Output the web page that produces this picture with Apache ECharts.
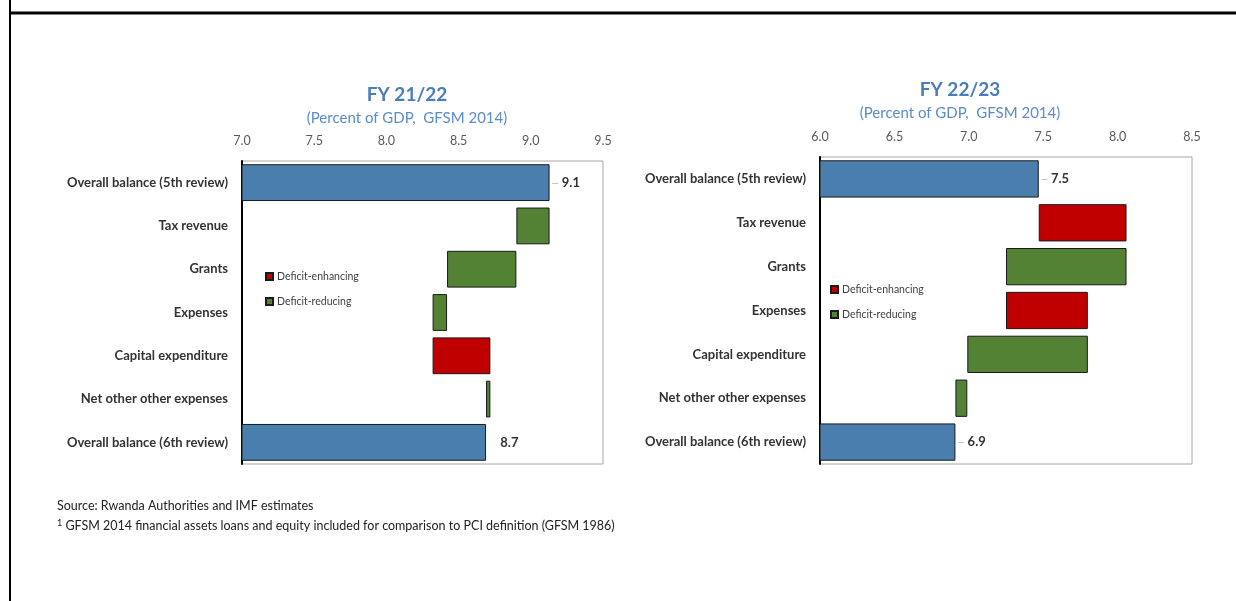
<!DOCTYPE html>
<html>
<head>
<meta charset="utf-8">
<title>Rwanda overall balance</title>
<script src="https://cdn.jsdelivr.net/npm/echarts@6/dist/echarts.min.js"></script>
<style>
  html, body { margin: 0; padding: 0; background: #fff; }
  #chart { width: 1236px; height: 601px; }
</style>
</head>
<body>
<div id="chart"></div>
<script>
const categories = ['Overall balance (5th review)', 'Tax revenue', 'Grants', 'Expenses',
  'Capital expenditure', 'Net other other expenses', 'Overall balance (6th review)']

// FY 21/22: balance at 5th and 6th review, then change by component (+ = deficit-enhancing)
const fy2122Balance = [9.13, 8.69]
const fy2122Changes = [-0.23, -0.48, -0.10, 0.40, -0.03]
const fy2122Ticks = [7.0, 9.5]

// FY 22/23
const fy2223Balance = [7.47, 6.91]
const fy2223Changes = [0.59, -0.81, 0.55, -0.81, -0.08]
const fy2223Ticks = [6.0, 8.5]

const FONT = 'Lato, "Noto Sans", sans-serif'
const BLUE = '#4a7fad'
const RED = '#c00000'
const GREEN = '#548235'
const EDGE = '#1a1a1a'

// running totals -> transparent base + coloured pieces
function waterfall(balance, changes) {
  const base = [0]
  const up = ['-']
  const down = ['-']
  const total = [balance[0]]
  let level = balance[0]
  changes.forEach(c => {
    const next = level + c
    base.push(Math.min(level, next))
    up.push(c > 0 ? c : '-')
    down.push(c < 0 ? -c : '-')
    total.push('-')
    level = next
  })
  base.push(0)
  up.push('-')
  down.push('-')
  total.push(balance[1])
  return { base, up, down, total }
}

function buildSeries(balance, changes, idx, leaderIdx) {
  const w = waterfall(balance, changes)
  const stack = 'wf' + idx
  const common = {
    type: 'bar',
    stack: stack,
    xAxisIndex: idx,
    yAxisIndex: idx,
    barCategoryGap: '15%',
    animation: false
  }
  return [
    Object.assign({}, common, {
      name: 'base' + idx,
      data: w.base,
      itemStyle: { color: 'transparent', borderWidth: 0 },
      emphasis: { disabled: true }
    }),
    Object.assign({}, common, {
      name: 'Balance',
      data: w.total,
      itemStyle: { color: BLUE, borderColor: EDGE, borderWidth: 1 },
      label: {
        show: true,
        position: 'right',
        distance: 2,
        formatter: p => (leaderIdx.indexOf(p.dataIndex) >= 0 ? '{l|—}' : '   ') +
          ' {v|' + p.value.toFixed(1) + '}',
        rich: {
          l: { color: '#a6a6a6', fontSize: 9, fontFamily: FONT },
          v: { color: '#333', fontSize: 13, fontWeight: 'bold', fontFamily: FONT }
        }
      }
    }),
    Object.assign({}, common, {
      name: 'Deficit-enhancing',
      data: w.up,
      itemStyle: { color: RED, borderColor: EDGE, borderWidth: 1 }
    }),
    Object.assign({}, common, {
      name: 'Deficit-reducing',
      data: w.down,
      itemStyle: { color: GREEN, borderColor: EDGE, borderWidth: 1 }
    })
  ]
}

function xAxis(ticks, idx) {
  return {
    type: 'value',
    gridIndex: idx,
    position: 'top',
    min: ticks[0],
    max: ticks[1],
    interval: 0.5,
    axisLine: { show: false },
    axisTick: { show: false },
    splitLine: { show: false },
    axisLabel: {
      margin: 14,
      color: '#595959',
      fontSize: 12.5,
      fontFamily: FONT,
      formatter: v => v.toFixed(1)
    }
  }
}

function yAxis(idx) {
  return {
    type: 'category',
    gridIndex: idx,
    data: categories,
    inverse: true,
    axisLine: { show: true, lineStyle: { color: '#000', width: 2 } },
    axisTick: { show: false },
    axisLabel: {
      margin: 14,
      color: '#333',
      fontSize: 13,
      fontWeight: 'bold',
      fontFamily: FONT
    }
  }
}

function legendAt(left, top) {
  return {
    orient: 'vertical',
    left: left,
    top: top,
    padding: 0,
    itemGap: 14,
    itemWidth: 7,
    itemHeight: 7,
    icon: 'rect',
    data: ['Deficit-enhancing', 'Deficit-reducing'],
    textStyle: { color: '#404040', fontSize: 10.5, fontFamily: FONT, padding: [0, 0, 0, -1] }
  }
}

const chart = echarts.init(document.getElementById('chart'), null, { renderer: 'canvas' })

chart.setOption({
  backgroundColor: '#fff',
  textStyle: { fontFamily: FONT },
  title: [
    {
      text: 'FY 21/22',
      subtext: '(Percent of GDP,  GFSM 2014)',
      left: 402,
      top: 80,
      textAlign: 'center',
      itemGap: 7,
      textStyle: { color: '#4a7ebb', fontSize: 19, fontWeight: 'bold', fontFamily: FONT },
      subtextStyle: { color: '#5b8cc8', fontSize: 15, fontFamily: FONT }
    },
    {
      text: 'FY 22/23',
      subtext: '(Percent of GDP,  GFSM 2014)',
      left: 955,
      top: 75,
      textAlign: 'center',
      itemGap: 7,
      textStyle: { color: '#4a7ebb', fontSize: 19, fontWeight: 'bold', fontFamily: FONT },
      subtextStyle: { color: '#5b8cc8', fontSize: 15, fontFamily: FONT }
    }
  ],
  legend: [legendAt(265, 271), legendAt(830, 284)],
  grid: [
    { left: 242, right: 633, top: 161, bottom: 137, show: true, borderColor: '#a6a6a6', borderWidth: 1 },
    { left: 820, right: 44, top: 157, bottom: 137, show: true, borderColor: '#a6a6a6', borderWidth: 1 }
  ],
  xAxis: [xAxis(fy2122Ticks, 0), xAxis(fy2223Ticks, 1)],
  yAxis: [yAxis(0), yAxis(1)],
  series: buildSeries(fy2122Balance, fy2122Changes, 0, [0])
    .concat(buildSeries(fy2223Balance, fy2223Changes, 1, [0, 6])),
  graphic: [
    { type: 'line', shape: { x1: 10, y1: 13, x2: 1236, y2: 13 }, style: { stroke: '#000', lineWidth: 3 } },
    { type: 'line', shape: { x1: 10, y1: 0, x2: 10, y2: 601 }, style: { stroke: '#000', lineWidth: 2 } },
    {
      type: 'text',
      left: 57,
      top: 499,
      style: { text: 'Source: Rwanda Authorities and IMF estimates', fill: '#222', fontSize: 12.5, fontFamily: FONT }
    },
    {
      type: 'text',
      left: 57,
      top: 519,
      style: {
        text: '{s|1} GFSM 2014 financial assets loans and equity included for comparison to PCI definition (GFSM 1986)',
        fill: '#222',
        fontSize: 12.5,
        fontFamily: FONT,
        rich: { s: { fontSize: 9, verticalAlign: 'top', fill: '#222', fontFamily: FONT } }
      }
    }
  ]
})
</script>
</body>
</html>
